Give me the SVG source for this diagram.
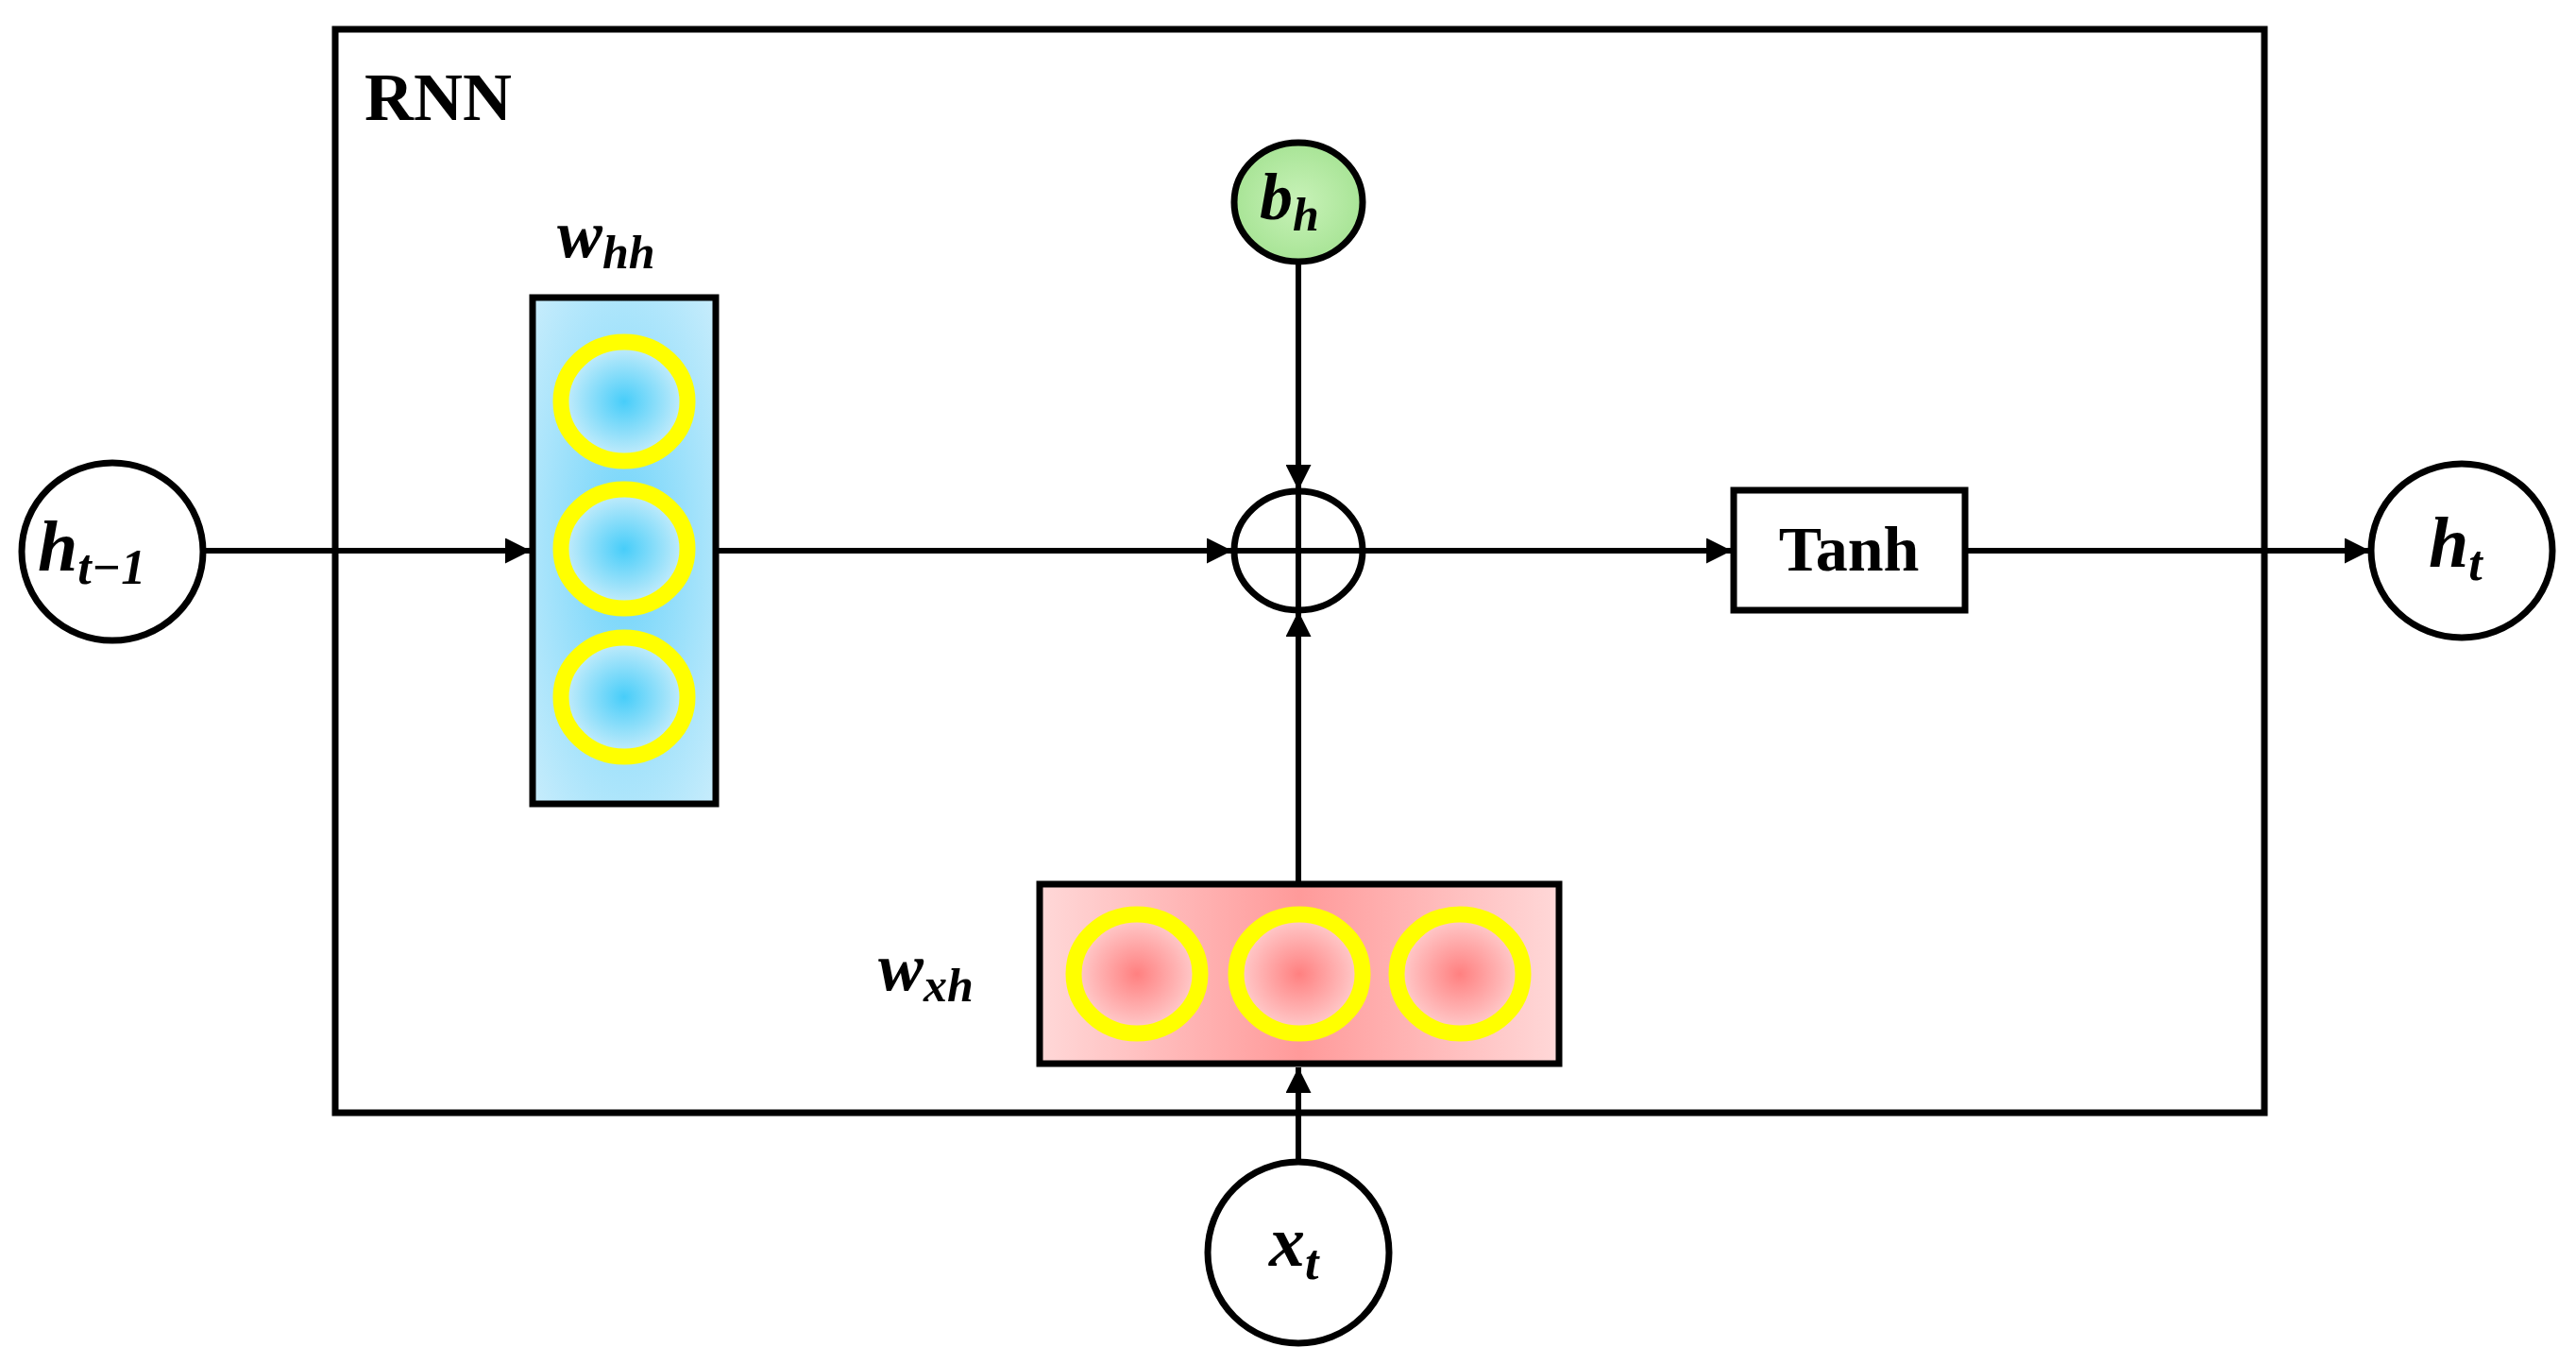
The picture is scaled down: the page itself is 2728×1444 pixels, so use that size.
<svg xmlns="http://www.w3.org/2000/svg" width="2728" height="1444" viewBox="0 0 2728 1444">
<style>
.k{fill:none;stroke:#000;stroke-width:7}
.c{fill:#fff;stroke:#000;stroke-width:7}
.y{fill:none;stroke:#ffff00;stroke-width:17}
.ln{stroke:#000;stroke-width:6;fill:none}
.m{font-family:"Liberation Serif",serif;font-weight:bold;font-style:italic;fill:#000}
.t{font-family:"Liberation Serif",serif;font-weight:bold;fill:#000}
</style>
<defs>
<marker id="a" viewBox="0 0 10 10" refX="10" refY="5" markerWidth="4.5" markerHeight="4.5" orient="auto" markerUnits="strokeWidth"><path d="M0,0L10,5L0,10z" fill="#000"/></marker>
<radialGradient id="bo"><stop offset="0" stop-color="#47cdf9"/><stop offset="1" stop-color="#cdeefb"/></radialGradient>
<radialGradient id="bb" cx="0.5" cy="0.5" r="0.8"><stop offset="0" stop-color="#6fd4fa"/><stop offset="1" stop-color="#d4f0fc"/></radialGradient>
<radialGradient id="ro"><stop offset="0" stop-color="#ff8080"/><stop offset="1" stop-color="#ffd0d0"/></radialGradient>
<linearGradient id="rb"><stop offset="0" stop-color="#ffd8d8"/><stop offset="0.5" stop-color="#ff9a9a"/><stop offset="1" stop-color="#ffd8d8"/></linearGradient>
<radialGradient id="g"><stop offset="0" stop-color="#c8f2b8"/><stop offset="1" stop-color="#a8e496"/></radialGradient>
</defs>
<g id="rnn"><rect class="k" x="355" y="31" width="2043" height="1147"/>
<text class="t" x="386" y="127" font-size="72">RNN</text></g>
<g id="connectors">
<line class="ln" x1="216" y1="583" x2="562" y2="583" marker-end="url(#a)"/>
<line class="ln" x1="759" y1="583" x2="1305" y2="583" marker-end="url(#a)"/>
<line class="ln" x1="1445" y1="583" x2="1834" y2="583" marker-end="url(#a)"/>
<line class="ln" x1="2081" y1="583" x2="2510" y2="583" marker-end="url(#a)"/>
<line class="ln" x1="1375" y1="278" x2="1375" y2="519" marker-end="url(#a)"/>
<line class="ln" x1="1375" y1="933" x2="1375" y2="647" marker-end="url(#a)"/>
<line class="ln" x1="1375" y1="1229" x2="1375" y2="1130" marker-end="url(#a)"/>
</g>
<g id="h_prev"><ellipse class="c" cx="119" cy="584" rx="96" ry="94"/>
<text class="m" x="40" y="604" font-size="76">h<tspan font-size="52" dy="14">t−1</tspan></text></g>
<g id="whh"><rect x="564" y="315" width="194" height="536" fill="url(#bb)" stroke="#000" stroke-width="7"/>
<ellipse cx="661" cy="425" rx="67" ry="63" fill="url(#bo)"/><ellipse class="y" cx="661" cy="425" rx="67" ry="63"/>
<ellipse cx="661" cy="581" rx="67" ry="63" fill="url(#bo)"/><ellipse class="y" cx="661" cy="581" rx="67" ry="63"/>
<ellipse cx="661" cy="738" rx="67" ry="63" fill="url(#bo)"/><ellipse class="y" cx="661" cy="738" rx="67" ry="63"/>
<text class="m" x="590" y="272" font-size="72">w<tspan font-size="50" dy="12">hh</tspan></text></g>
<g id="bh"><ellipse cx="1375" cy="214" rx="68" ry="63" fill="url(#g)" stroke="#000" stroke-width="7"/>
<text class="m" x="1334" y="232" font-size="70">b<tspan font-size="50" dy="12">h</tspan></text></g>
<g id="plus"><ellipse class="c" cx="1375" cy="583" rx="68" ry="63"/>
<line class="ln" x1="1307" y1="583" x2="1443" y2="583"/><line class="ln" x1="1375" y1="520" x2="1375" y2="646"/></g>
<g id="tanh"><rect class="c" x="1836" y="519" width="245" height="127"/>
<text class="t" x="1958" y="604" font-size="68" text-anchor="middle">Tanh</text></g>
<g id="ht"><ellipse class="c" cx="2607" cy="583" rx="96" ry="92"/>
<text class="m" x="2572" y="600" font-size="76">h<tspan font-size="52" dy="14">t</tspan></text></g>
<g id="wxh"><rect x="1101" y="936" width="550" height="190" fill="url(#rb)" stroke="#000" stroke-width="7"/>
<ellipse cx="1204" cy="1031" rx="67" ry="63" fill="url(#ro)"/><ellipse class="y" cx="1204" cy="1031" rx="67" ry="63"/>
<ellipse cx="1376" cy="1031" rx="67" ry="63" fill="url(#ro)"/><ellipse class="y" cx="1376" cy="1031" rx="67" ry="63"/>
<ellipse cx="1546" cy="1031" rx="67" ry="63" fill="url(#ro)"/><ellipse class="y" cx="1546" cy="1031" rx="67" ry="63"/>
<text class="m" x="930" y="1048" font-size="72">w<tspan font-size="50" dy="12">xh</tspan></text></g>
<g id="xt"><ellipse class="c" cx="1375" cy="1326" rx="96" ry="96"/>
<text class="m" x="1344" y="1340" font-size="76">x<tspan font-size="52" dy="14">t</tspan></text></g>
</svg>
